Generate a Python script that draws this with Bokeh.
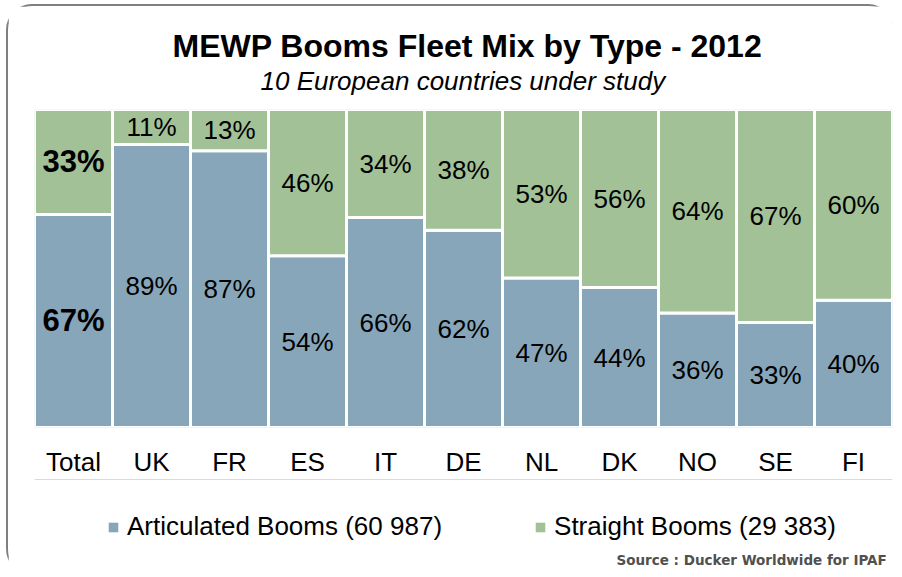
from bokeh.plotting import figure
from bokeh.models import ColumnDataSource, Legend, LegendItem, Label
from bokeh.layouts import column
from bokeh.embed import file_html
from bokeh.resources import INLINE
from bokeh.core.properties import value

categories = ["Total", "UK", "FR", "ES", "IT", "DE", "NL", "DK", "NO", "SE", "FI"]
articulated = [67, 89, 87, 54, 66, 62, 47, 44, 36, 33, 40]
straight = [33, 11, 13, 46, 34, 38, 53, 56, 64, 67, 60]
series_labels = ["Articulated Booms (60 987)", "Straight Booms (29 383)"]
title_text = "MEWP Booms Fleet Mix  by Type - 2012"
subtitle_text = "10 European countries under study"
source_text = "Source : Ducker Worldwide for IPAF"

BLUE = "#87A6BA"
GREEN = "#A2C196"
FONT = "Liberation Sans"

src = ColumnDataSource(dict(cat=categories, articulated=articulated, straight=straight))


def blank(fig):
    fig.axis.visible = False
    fig.grid.visible = False
    fig.outline_line_color = None


# ---- title strip ----
t = figure(width=886, height=96, x_range=(0, 1), y_range=(0, 1), min_border=0,
           output_backend="svg", toolbar_location=None)
blank(t)
t.add_layout(Label(x=138, y=57, x_units="screen", y_units="screen", text=title_text,
                   text_align="left", text_baseline="middle", text_font=FONT,
                   text_font_size="32px", text_font_style="bold", text_color="black"))
t.add_layout(Label(x=226, y=22, x_units="screen", y_units="screen", text=subtitle_text,
                   text_align="left", text_baseline="middle", text_font=FONT,
                   text_font_size="26px", text_font_style="italic", text_color="black"))

# ---- main chart ----
p = figure(x_range=categories, y_range=(0, 100), frame_width=858, frame_height=318,
           output_backend="svg", toolbar_location=None,
           min_border_left=26, min_border_right=2, min_border_top=7, min_border_bottom=50)

p.vbar_stack(["articulated", "straight"], x="cat", width=1.0, color=[BLUE, GREEN],
             line_color="white", line_width=3, source=src)

lab_x, lab_y, lab_t, lab_size, lab_style = [], [], [], [], []
for i, c in enumerate(categories):
    a, s = articulated[i], straight[i]
    big = (i == 0)
    lab_x += [c, c]
    lab_y += [a / 2, a + s / 2]
    lab_t += [f"{a}%", f"{s}%"]
    lab_size += ["31px" if big else "26px"] * 2
    lab_style += ["bold" if big else "normal"] * 2
lsrc = ColumnDataSource(dict(x=lab_x, y=lab_y, t=lab_t, size=lab_size, style=lab_style))
p.text(x="x", y="y", text="t", source=lsrc, text_align="center", text_baseline="middle",
       text_font=value(FONT), text_font_size="size", text_font_style="style", text_color="black")

p.yaxis.visible = False
p.xgrid.grid_line_color = None
p.ygrid.grid_line_color = None
p.outline_line_color = None
xa = p.xaxis[0]
xa.axis_line_color = None
xa.major_tick_line_color = None
xa.minor_tick_line_color = None
xa.major_tick_out = 0
xa.major_tick_in = 0
xa.major_label_standoff = 19
xa.major_label_text_font = FONT
xa.major_label_text_font_size = "26px"
xa.major_label_text_color = "black"

# ---- legend strip (legend glyphs come from out-of-view copies of the series) ----
q = figure(width=886, height=96, x_range=categories, y_range=(-300, -200), min_border=0,
           output_backend="svg", toolbar_location=None)
blank(q)
lr = q.vbar_stack(["articulated", "straight"], x="cat", width=1.0, color=[BLUE, GREEN],
                  line_color=None, source=src)
legend = Legend(items=[LegendItem(label=series_labels[0], renderers=[lr[0]]),
                       LegendItem(label=series_labels[1], renderers=[lr[1]])],
                orientation="horizontal", location=(73, 33),
                label_text_font=FONT, label_text_font_size="26px", label_text_color="black",
                glyph_width=12, glyph_height=12, label_standoff=8, spacing=92,
                border_line_color=None, background_fill_alpha=0, padding=0, margin=0)
q.add_layout(legend)
q.add_layout(Label(x=582, y=16, x_units="screen", y_units="screen", text=source_text,
                   text_align="left", text_baseline="middle", text_font="DejaVu Sans",
                   text_font_size="13.5px", text_font_style="bold", text_color="#505050"))

layout = column(t, p, q, spacing=0,
                styles={"margin-left": "6px", "margin-top": "4px",
                        "border-top": "2px solid #7f7f7f", "border-left": "2px solid #7f7f7f",
                        "border-top-left-radius": "26px", "border-top-right-radius": "26px",
                        "border-bottom-left-radius": "26px"})

open("out.html", "w").write(file_html(layout, INLINE))
